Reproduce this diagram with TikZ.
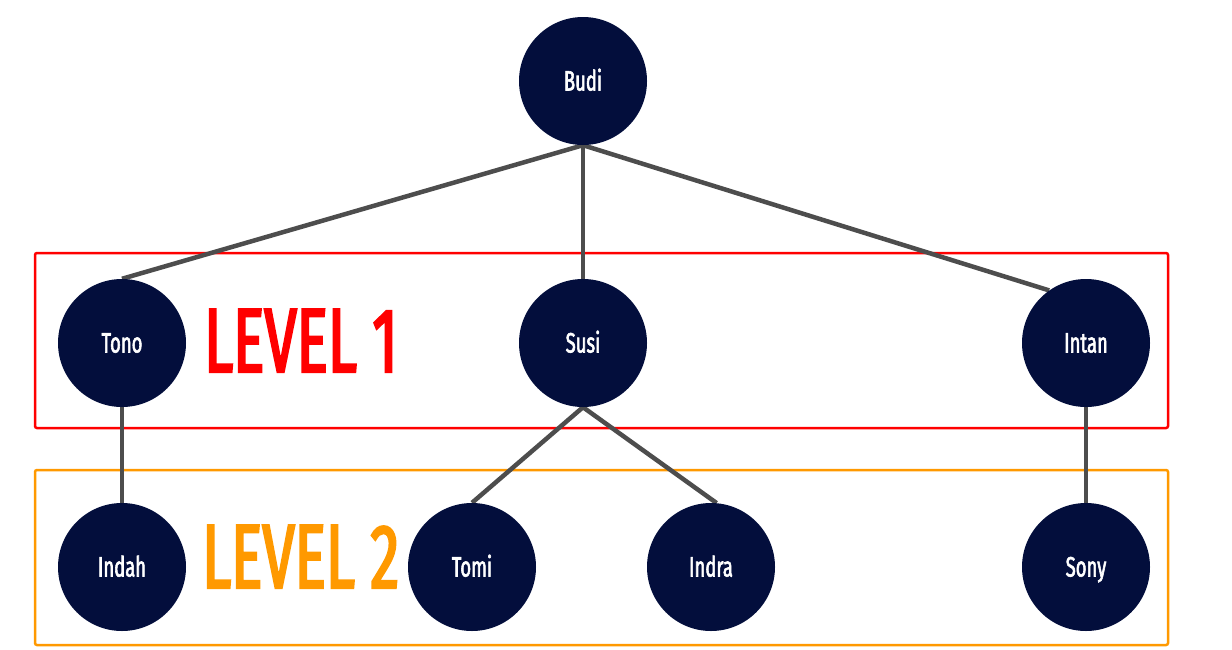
\documentclass[tikz,border=0pt]{standalone}
\usepackage{fontspec}
\newfontfamily\condfont[FakeStretch=0.64, FakeBold=2.5]{Fira Sans}
\newfontfamily\labelfont[FakeStretch=0.66, FakeBold=2]{Fira Sans}
\usetikzlibrary{backgrounds}
\definecolor{navy}{HTML}{030E3C}
\definecolor{edgegray}{HTML}{4D4D4D}
\definecolor{lvred}{HTML}{FF0000}
\definecolor{lvorange}{HTML}{FF9900}
\tikzset{
  person/.style={circle, fill=navy, minimum size=128pt, inner sep=0pt, text=white,
    text height=19pt, text depth=0pt, font=\labelfont\fontsize{28}{30}\selectfont},
  link/.style={draw=edgegray, line width=4.5pt},
  levelbox/.style={line width=2.5pt, rounded corners=2pt},
  leveltext/.style={font=\condfont\fontsize{91}{96}\selectfont, inner sep=0pt, anchor=base west}
}
\begin{document}
\begin{tikzpicture}[x=1pt,y=-1pt]
\useasboundingbox (0,0) rectangle (1232,649);
\node[person] (budi) at (583,81) {Budi};
\node[person] (tono) at (122,343) {Tono};
\node[person] (susi) at (583,343) {Susi};
\node[person] (intan) at (1086,343) {Intan};
\node[person] (indah) at (122,567) {Indah};
\node[person] (tomi) at (472,567) {Tomi};
\node[person] (indra) at (711,567) {Indra};
\node[person] (sony) at (1086,567) {Sony};
\node[leveltext, text=lvred] (lv1) at (204,372) {LEVEL 1};
\node[leveltext, text=lvorange] (lv2) at (202,588) {LEVEL 2};
\begin{pgfonlayer}{background}
\draw[levelbox, draw=lvred] (35,253) rectangle (1168,428);
\draw[levelbox, draw=lvorange] (35,470) rectangle (1168,645);
\draw[link] (budi.south) -- (tono.north);
\draw[link] (budi.south) -- (susi.north);
\draw[link] (budi.south) -- (intan.125);
\draw[link] (tono.south) -- (indah.north);
\draw[link] (susi.south) -- (tomi.north);
\draw[link] (susi.south) -- (indra.85);
\draw[link] (intan.south) -- (sony.north);
\end{pgfonlayer}
\end{tikzpicture}
\end{document}
